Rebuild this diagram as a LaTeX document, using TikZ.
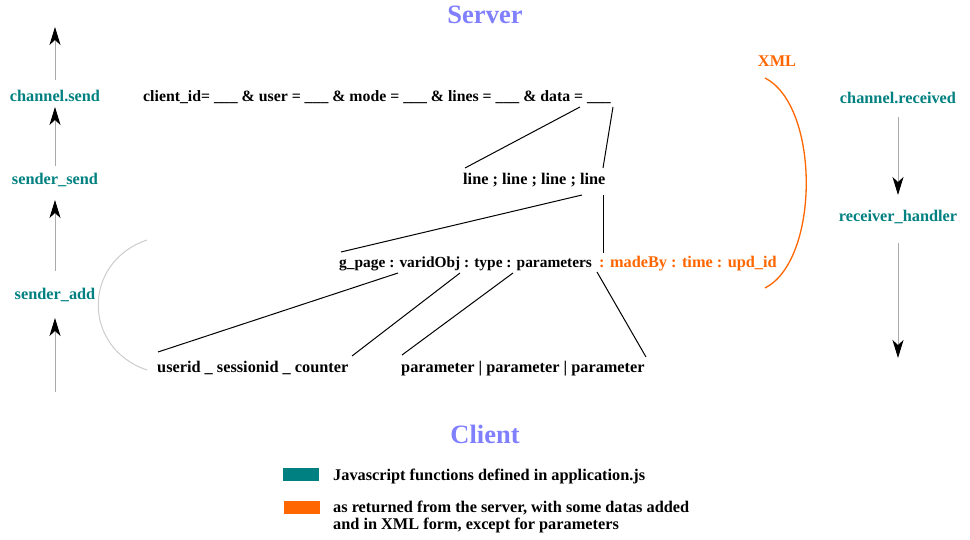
\documentclass[tikz,border=0pt]{standalone}
\usepackage{fontspec}
\setmainfont{Liberation Serif}
\usetikzlibrary{arrows.meta}
\definecolor{teal}{RGB}{0,128,128}
\definecolor{orng}{RGB}{255,102,0}
\definecolor{lav}{RGB}{128,128,255}
\definecolor{arcgray}{RGB}{204,204,204}
\definecolor{flowgray}{RGB}{170,170,170}
\tikzset{
  fn/.style={font=\bfseries\fontsize{16.3}{19}\selectfont, text=teal, inner sep=0pt, anchor=mid},
  txt/.style={font=\bfseries\fontsize{16.3}{19}\selectfont, text=black, inner sep=0pt, anchor=mid west},
  title/.style={font=\bfseries\fontsize{26.5}{30}\selectfont, text=lav, inner sep=0pt, anchor=mid},
  legtxt/.style={font=\bfseries\fontsize{16.3}{19}\selectfont, inner sep=0pt, anchor=mid west},
  flow/.style={draw=flowgray, line width=1pt, -{Stealth[length=18pt,width=11pt,inset=5pt,fill=black,color=black]}},
  conn/.style={draw=black, line width=1pt},
}
\begin{document}
\begin{tikzpicture}[x=1pt,y=-1pt]
\useasboundingbox (0,0) rectangle (970,540);
% titles
\node[title] (server) at (485,21) {Server};
\node[title] (client) at (485,441) {Client};
% left column
\coordinate (topend) at (55,27);
\coordinate (botstart) at (55,392);
\node[fn] (chsend) at (55,99) {channel.send};
\node[fn] (sndsend) at (55,182) {sender\_send};
\node[fn] (sndadd) at (55,297) {sender\_add};
\draw[flow] (55,80) -- (topend);
\draw[flow] (55,166) -- (55,107);
\draw[flow] (55,271) -- (55,200);
\draw[flow] (botstart) -- (55,318);
% gray arc
\coordinate (ga1) at (147,240);
\coordinate (ga2) at (147,370);
\draw[arcgray, line width=1pt] (ga1) .. controls (82,262) and (82,348) .. (ga2);
% right column
\node[fn] (chrec) at (898,101) {channel.received};
\node[fn] (rechand) at (898,219) {receiver\_handler};
\coordinate (rightend) at (898,358);
\draw[flow] (898,117) -- (898,195);
\draw[flow] (898,243) -- (rightend);
% XML
\node[fn, text=orng] (xml) at (777,64) {XML};
\coordinate (xa1) at (765,78);
\coordinate (xa2) at (765,288);
\draw[orng, line width=1.3pt] (xa1) .. controls (820,106) and (820,260) .. (xa2);
% texts
\node[txt, font=\bfseries\fontsize{15.8}{19}\selectfont] (query) at (143,99) {client\_id= \_\_\_ \& user = \_\_\_ \& mode = \_\_\_ \& lines = \_\_\_ \& data = \_\_\_};
\node[txt] (lines) at (463,182) {line ; line ; line ; line};
\node[txt, font=\bfseries\fontsize{15.4}{19}\selectfont] (gpage) at (339,265) {g\_page : varidObj : type : parameters};
\node[txt, text=orng] (madeby) at (599,265) {: madeBy : time : upd\_id};
\node[txt] (userid) at (157,370) {userid \_ sessionid \_ counter};
\node[txt] (params) at (401,370) {parameter \textbar{} parameter \textbar{} parameter};
% connector coordinates
\coordinate (q1) at (580,107);
\coordinate (q2) at (613,107);
\coordinate (l1) at (465,168);
\coordinate (l2) at (603,168);
\coordinate (l3) at (582,195);
\coordinate (l4) at (603,195);
\coordinate (g1) at (341,252);
\coordinate (g2) at (603,253);
\coordinate (g3) at (398,273);
\coordinate (g4) at (460,273);
\coordinate (g5) at (513,273);
\coordinate (g6) at (597,272);
\coordinate (u1) at (158,352);
\coordinate (u2) at (352,356);
\coordinate (p1) at (402,355);
\coordinate (p2) at (646,357);
\draw[conn] (q1) -- (l1);
\draw[conn] (q2) -- (l2);
\draw[conn] (l3) -- (g1);
\draw[conn] (l4) -- (g2);
\draw[conn] (g3) -- (u1);
\draw[conn] (g4) -- (u2);
\draw[conn] (g5) -- (p1);
\draw[conn] (g6) -- (p2);
% legend
\node[fill=teal, minimum width=36pt, minimum height=13pt, inner sep=0pt] (legA) at (301,474) {};
\node[fill=orng, minimum width=36pt, minimum height=13pt, inner sep=0pt] (legB) at (302,507) {};
\node[legtxt] (legAt) at (333,478) {Javascript functions defined in application.js};
\node[legtxt] (legBt) at (333,510) {as returned from the server, with some datas added};
\node[legtxt] (legBt2) at (333,527) {and in XML form, except for parameters};
\end{tikzpicture}
\end{document}
